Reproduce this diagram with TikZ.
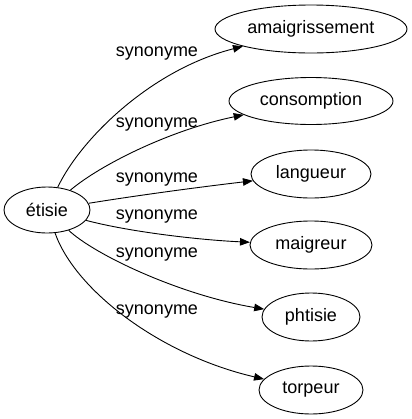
\documentclass[tikz,border=0pt]{standalone}
\usepackage{fontspec}
\setmainfont{Liberation Sans}
\usetikzlibrary{arrows.meta,shapes.geometric}
\begin{document}
\begin{tikzpicture}[x=1bp,y=-1bp,
  every node/.style={font=\fontsize{18bp}{20bp}\selectfont},
  term/.style={ellipse,draw,line width=0.9bp,inner sep=0pt},
  rel/.style={line width=0.9bp,-{Triangle[length=10bp,width=7.5bp]}},
  lab/.style={inner sep=0pt}]
\useasboundingbox (0,0) rectangle (412,419);
\node[term,minimum width=86bp,minimum height=46bp] (et) at (47,210) {étisie};
\node[term,minimum width=192bp,minimum height=48bp] (a) at (311,29) {amaigrissement};
\node[term,minimum width=164bp,minimum height=47bp] (b) at (311,101) {consomption};
\node[term,minimum width=120bp,minimum height=48bp] (c) at (311,174) {langueur};
\node[term,minimum width=122bp,minimum height=48bp] (d) at (311,245) {maigreur};
\node[term,minimum width=98bp,minimum height=48bp] (e) at (311,317) {phtisie};
\node[term,minimum width=104bp,minimum height=48bp] (f) at (311,390) {torpeur};
\draw[rel] (et) .. controls (80,140) and (150,70) .. (a);
\draw[rel] (et) .. controls (100,165) and (170,130) .. (b);
\draw[rel] (et) .. controls (140,195) and (200,187) .. (c);
\draw[rel] (et) .. controls (130,232) and (200,240) .. (d);
\draw[rel] (et) .. controls (95,255) and (180,295) .. (e);
\draw[rel] (et) .. controls (75,290) and (160,355) .. (f);
\node[lab] (l1) at (157,54) {synonyme};
\node[lab] (l2) at (157,125) {synonyme};
\node[lab] (l3) at (157,180) {synonyme};
\node[lab] (l4) at (157,217) {synonyme};
\node[lab] (l5) at (157,255) {synonyme};
\node[lab] (l6) at (157,312) {synonyme};
\end{tikzpicture}
\end{document}
